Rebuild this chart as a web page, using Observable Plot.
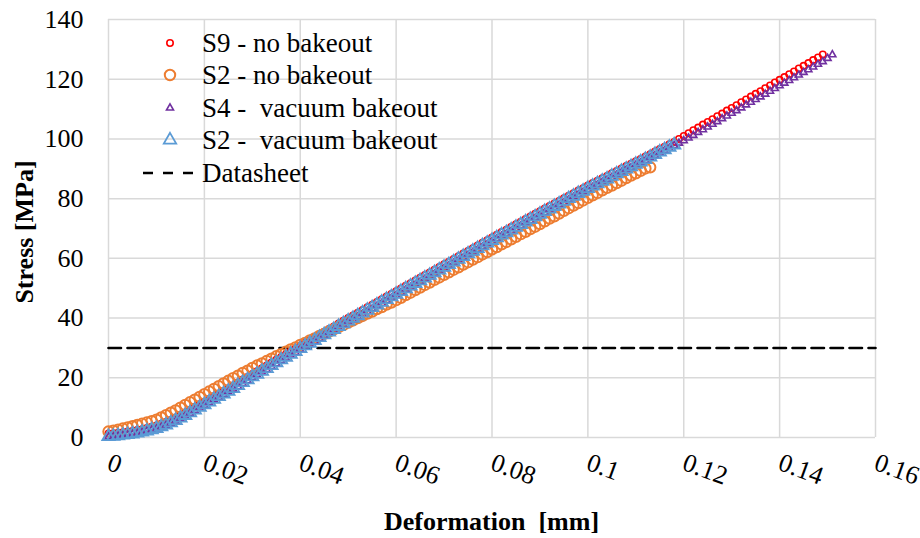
<!DOCTYPE html>
<html>
<head>
<meta charset="utf-8">
<script src="https://cdn.jsdelivr.net/npm/d3@7"></script>
<script src="https://cdn.jsdelivr.net/npm/@observablehq/plot@0.6"></script>
<style>
  html, body { margin: 0; padding: 0; background: #fff; }
  #wrap { position: relative; width: 920px; height: 538px; font-family: 'Liberation Serif'; color: #000; }
  #wrap svg text { font-family: 'Liberation Serif'; white-space: pre; }
  .lg { position: absolute; left: 202px; font-size: 27px; line-height: 32px; white-space: pre; font-weight: normal; }
  .ttl { position: absolute; font-size: 26px; line-height: 30px; white-space: pre; font-weight: bold; }
</style>
</head>
<body>
<div id="wrap">
  <div id="chart"></div>
  <div class="lg" id="lg0" style="top:27px">S9 - no bakeout</div>
  <div class="lg" id="lg1" style="top:59px">S2 - no bakeout</div>
  <div class="lg" id="lg2" style="top:92px">S4 -  vacuum bakeout</div>
  <div class="lg" id="lg3" style="top:124px">S2 -  vacuum bakeout</div>
  <div class="lg" id="lg4" style="top:157px">Datasheet</div>
  <div class="ttl" id="xt" style="left:108px; width:767px; top:507px; text-align:center;">Deformation  [mm]</div>
  <div class="ttl" id="yt" style="left:25px; top:232px; transform: translate(-50%,-50%) rotate(-90deg);">Stress [MPa]</div>
</div>
<script>
// Shared deformation values (mm)
const deformation = [
  0, 0.001, 0.002, 0.003, 0.004, 0.005, 0.006, 0.007, 0.008, 0.009,
  0.010, 0.011, 0.012, 0.013, 0.014, 0.015, 0.016, 0.017, 0.018, 0.019,
  0.020, 0.021, 0.022, 0.023, 0.024, 0.025, 0.026, 0.027, 0.028, 0.029,
  0.030, 0.031, 0.032, 0.033, 0.034, 0.035, 0.036, 0.037, 0.038, 0.039,
  0.040, 0.041, 0.042, 0.043, 0.044, 0.045, 0.046, 0.047, 0.048, 0.049,
  0.050, 0.051, 0.052, 0.053, 0.054, 0.055, 0.056, 0.057, 0.058, 0.059,
  0.060, 0.061, 0.062, 0.063, 0.064, 0.065, 0.066, 0.067, 0.068, 0.069,
  0.070, 0.071, 0.072, 0.073, 0.074, 0.075, 0.076, 0.077, 0.078, 0.079,
  0.080, 0.081, 0.082, 0.083, 0.084, 0.085, 0.086, 0.087, 0.088, 0.089,
  0.090, 0.091, 0.092, 0.093, 0.094, 0.095, 0.096, 0.097, 0.098, 0.099,
  0.100, 0.101, 0.102, 0.103, 0.104, 0.105, 0.106, 0.107, 0.108, 0.109,
  0.110, 0.111, 0.112, 0.113, 0.114, 0.115, 0.116, 0.117, 0.118, 0.119,
  0.120, 0.121, 0.122, 0.123, 0.124, 0.125, 0.126, 0.127, 0.128, 0.129,
  0.130, 0.131, 0.132, 0.133, 0.134, 0.135, 0.136, 0.137, 0.138, 0.139,
  0.140, 0.141, 0.142, 0.143, 0.144, 0.145, 0.146, 0.147, 0.148, 0.149,
  0.150, 0.151
];

// Stress (MPa) per series, index-aligned with deformation
const s9NoBakeout = [
  1.3, 1.4, 1.6, 1.8, 2.0, 2.2, 2.5, 2.8, 3.2, 3.6,
  4.0, 4.6, 5.2, 5.9, 6.7, 7.5, 8.4, 9.3, 10.2, 11.1,
  12.0, 12.9, 13.8, 14.7, 15.6, 16.5, 17.4, 18.4, 19.4, 20.3,
  21.3, 22.2, 23.2, 24.1, 25.1, 26.0, 27.0, 27.9, 28.9, 29.8,
  30.8, 31.7, 32.6, 33.5, 34.5, 35.4, 36.3, 37.2, 38.2, 39.1,
  40.0, 40.9, 41.8, 42.7, 43.6, 44.5, 45.4, 46.3, 47.2, 48.1,
  49.0, 49.9, 50.8, 51.7, 52.6, 53.5, 54.4, 55.3, 56.2, 57.1,
  58.0, 58.9, 59.8, 60.7, 61.6, 62.5, 63.4, 64.3, 65.2, 66.1,
  67.0, 67.9, 68.8, 69.6, 70.5, 71.4, 72.3, 73.2, 74.0, 74.9,
  75.8, 76.7, 77.5, 78.4, 79.2, 80.1, 81.0, 81.8, 82.7, 83.5,
  84.4, 85.2, 86.0, 86.8, 87.6, 88.5, 89.3, 90.1, 90.9, 91.7,
  92.5, 93.3, 94.1, 94.9, 95.8, 96.6, 97.4, 98.2, 99.0, 100.0,
  101.0, 101.9, 102.9, 103.8, 104.8, 105.7, 106.6, 107.6, 108.5, 109.5,
  110.4, 111.3, 112.3, 113.2, 114.2, 115.1, 116.0, 117.0, 117.9, 118.9,
  119.8, 120.7, 121.7, 122.6, 123.6, 124.5, 125.4, 126.4, 127.3, 128.3
];
const s2NoBakeout = [
  2.0, 2.3, 2.6, 3.0, 3.4, 3.8, 4.2, 4.6, 5.0, 5.5,
  6.0, 6.7, 7.5, 8.3, 9.1, 10.0, 10.9, 11.8, 12.7, 13.6,
  14.5, 15.4, 16.3, 17.2, 18.1, 19.0, 19.9, 20.7, 21.6, 22.4,
  23.3, 24.1, 24.8, 25.6, 26.4, 27.2, 27.9, 28.7, 29.5, 30.2,
  31.0, 31.7, 32.5, 33.2, 34.0, 34.7, 35.5, 36.2, 37.0, 37.7,
  38.5, 39.2, 40.0, 40.7, 41.5, 42.2, 43.0, 43.7, 44.5, 45.2,
  46.0, 46.8, 47.7, 48.5, 49.4, 50.2, 51.1, 51.9, 52.8, 53.6,
  54.5, 55.3, 56.2, 57.0, 57.9, 58.7, 59.6, 60.4, 61.3, 62.1,
  63.0, 63.8, 64.7, 65.5, 66.4, 67.2, 68.1, 68.9, 69.8, 70.6,
  71.5, 72.4, 73.3, 74.1, 75.0, 75.9, 76.8, 77.7, 78.5, 79.4,
  80.3, 81.1, 81.9, 82.8, 83.6, 84.4, 85.2, 86.0, 86.9, 87.7,
  88.5, 89.3, 90.1, 90.5
];
const s4VacuumBakeout = [
  0.2, 0.3, 0.5, 0.7, 0.9, 1.1, 1.4, 1.7, 2.1, 2.5,
  2.9, 3.5, 4.1, 4.8, 5.5, 6.3, 7.2, 8.1, 9.0, 9.9,
  10.8, 11.7, 12.6, 13.5, 14.4, 15.3, 16.2, 17.1, 18.1, 19.0,
  20.0, 20.9, 21.9, 22.8, 23.8, 24.7, 25.7, 26.6, 27.6, 28.5,
  29.4, 30.3, 31.2, 32.1, 33.1, 34.0, 34.9, 35.8, 36.8, 37.7,
  38.6, 39.5, 40.4, 41.3, 42.2, 43.1, 44.0, 44.9, 45.8, 46.7,
  47.6, 48.5, 49.4, 50.3, 51.2, 52.1, 53.0, 53.9, 54.8, 55.7,
  56.6, 57.5, 58.4, 59.3, 60.2, 61.1, 62.0, 62.9, 63.8, 64.7,
  65.6, 66.5, 67.4, 68.2, 69.1, 70.0, 70.9, 71.8, 72.6, 73.5,
  74.4, 75.3, 76.1, 77.0, 77.9, 78.7, 79.6, 80.5, 81.3, 82.2,
  83.0, 83.8, 84.6, 85.5, 86.3, 87.1, 87.9, 88.8, 89.6, 90.4,
  91.2, 92.0, 92.8, 93.7, 94.5, 95.3, 96.1, 96.9, 97.8, 98.6,
  99.4, 100.3, 101.2, 102.2, 103.1, 104.0, 104.9, 105.8, 106.8, 107.7,
  108.6, 109.5, 110.4, 111.4, 112.3, 113.2, 114.1, 115.0, 116.0, 116.9,
  117.8, 118.7, 119.6, 120.5, 121.4, 122.3, 123.2, 124.1, 125.0, 125.9,
  127.0, 128.2
];
const s2VacuumBakeout = [
  0.3, 0.4, 0.6, 0.8, 1.0, 1.2, 1.5, 1.8, 2.2, 2.6,
  3.0, 3.6, 4.2, 4.9, 5.7, 6.5, 7.4, 8.3, 9.2, 10.1,
  11.0, 11.9, 12.8, 13.7, 14.6, 15.5, 16.4, 17.4, 18.4, 19.3,
  20.3, 21.2, 22.2, 23.1, 24.1, 25.0, 26.0, 26.9, 27.9, 28.8,
  29.8, 30.7, 31.6, 32.5, 33.5, 34.4, 35.3, 36.2, 37.2, 38.1,
  39.0, 39.9, 40.8, 41.7, 42.6, 43.5, 44.4, 45.3, 46.2, 47.1,
  48.0, 48.9, 49.8, 50.7, 51.6, 52.5, 53.4, 54.3, 55.2, 56.1,
  57.0, 57.9, 58.8, 59.7, 60.6, 61.5, 62.4, 63.3, 64.2, 65.1,
  66.0, 66.9, 67.8, 68.6, 69.5, 70.4, 71.3, 72.2, 73.0, 73.9,
  74.8, 75.7, 76.5, 77.4, 78.2, 79.1, 80.0, 80.8, 81.7, 82.5,
  83.4, 84.2, 85.0, 85.8, 86.6, 87.5, 88.3, 89.1, 89.9, 90.7,
  91.5, 92.3, 93.1, 93.9, 94.8, 95.6, 96.4, 97.2, 98.0
];

// Datasheet reference
const datasheetX = [0, 0.16];
const datasheetStress = [30, 30];

const seriesNames = ["S9 - no bakeout", "S2 - no bakeout", "S4 -  vacuum bakeout", "S2 -  vacuum bakeout", "Datasheet"];
const seriesColors = ["#FF0000", "#ED7D31", "#7030A0", "#5B9BD5", "#000000"];

const xTicks = [0, 0.02, 0.04, 0.06, 0.08, 0.1, 0.12, 0.14, 0.16];
const xTickLabels = ["0", "0.02", "0.04", "0.06", "0.08", "0.1", "0.12", "0.14", "0.16"];
const yTicks = [0, 20, 40, 60, 80, 100, 120, 140];
const yTickLabels = ["0", "20", "40", "60", "80", "100", "120", "140"];

const xTitle = "Deformation  [mm]";
const yTitle = "Stress [MPa]";

const toRows = (arr) => arr.map((s, i) => ({x: deformation[i], y: s}));
const datasheetRows = datasheetX.map((x, i) => ({x, y: datasheetStress[i]}));

const FONT = "Liberation Serif";
const markerStyles = [
  {symbol: "circle", r: 3.2, strokeWidth: 1.6},
  {symbol: "circle", r: 5.2, strokeWidth: 2},
  {symbol: "triangle", r: 2.6, strokeWidth: 1.6},
  {symbol: "triangle", r: 4.6, strokeWidth: 1.8}
];
const seriesData = [s9NoBakeout, s2NoBakeout, s4VacuumBakeout, s2VacuumBakeout];

const chart = Plot.plot({
  width: 920,
  height: 538,
  marginLeft: 108,
  marginRight: 45,
  marginTop: 19,
  marginBottom: 101,
  style: {fontFamily: FONT, fontSize: "26px", color: "#000", background: "#fff"},
  x: {domain: [0, 0.16], axis: null},
  y: {domain: [0, 140], axis: null},
  marks: [
    Plot.gridX(xTicks, {stroke: "#d9d9d9", strokeOpacity: 1, strokeWidth: 1.5}),
    Plot.gridY(yTicks, {stroke: "#d9d9d9", strokeOpacity: 1, strokeWidth: 1.5}),
    Plot.axisY({ticks: yTicks, tickFormat: d => yTickLabels[yTicks.indexOf(d)], tickSize: 0, tickPadding: 25, fontSize: 26, fontFamily: FONT, label: null}),
    Plot.axisX({ticks: xTicks, tickFormat: d => xTickLabels[xTicks.indexOf(d)], tickSize: 0, tickPadding: 24, tickRotate: 20, textAnchor: "start", fontSize: 26, fontFamily: FONT, label: null}),
    Plot.line(datasheetRows, {x: "x", y: "y", stroke: "#000", strokeWidth: 2.6, strokeDasharray: "12.5,6.5"}),
    ...seriesData.map((arr, k) => Plot.dot(toRows(arr), {
      x: "x", y: "y",
      symbol: markerStyles[k].symbol,
      r: markerStyles[k].r,
      stroke: seriesColors[k],
      strokeWidth: markerStyles[k].strokeWidth,
      fill: "none"
    }))
  ]
});

// Legend symbols inside the plot (top-left); legend texts are the HTML overlay
const svg = d3.select(chart);
const legend = svg.append("g");
const rowY = [43, 75, 108, 140, 173];
seriesNames.forEach((name, k) => {
  const y = rowY[k];
  if (k < 4) {
    const ms = markerStyles[k];
    const sym = ms.symbol === "circle" ? d3.symbolCircle : d3.symbolTriangle;
    legend.append("path")
      .attr("transform", `translate(170,${y})`)
      .attr("d", d3.symbol(sym, ms.r * ms.r * Math.PI)())
      .attr("fill", "none")
      .attr("stroke", seriesColors[k])
      .attr("stroke-width", ms.strokeWidth);
  } else {
    legend.append("line")
      .attr("x1", 143).attr("x2", 196).attr("y1", y).attr("y2", y)
      .attr("stroke", "#000").attr("stroke-width", 2.6)
      .attr("stroke-dasharray", "10,10");
  }
  document.getElementById("lg" + k).textContent = name;
});
document.getElementById("xt").textContent = xTitle;
document.getElementById("yt").textContent = yTitle;

document.getElementById("chart").appendChild(chart);
</script>
</body>
</html>
